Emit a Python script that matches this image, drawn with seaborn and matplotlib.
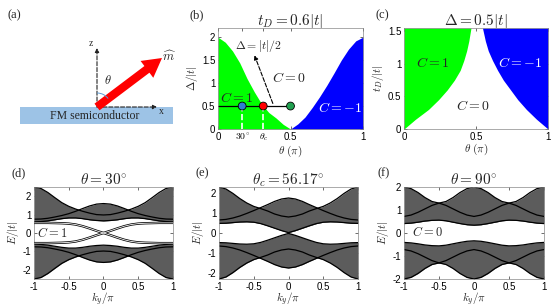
import numpy as np
import matplotlib
matplotlib.use("Agg")
import matplotlib.pyplot as plt
import seaborn as sns
from matplotlib.patches import Rectangle, Arc, FancyArrowPatch

# ---------------- data ----------------
# (b) phase boundary, t_D = 0.6|t|
theta_green_b = [0, 0.05, 0.1, 0.15, 0.2, 0.25, 0.3, 0.35, 0.4, 0.45, 0.5]
delta_green_b = [2.0, 1.89, 1.7, 1.44, 1.1, 0.81, 0.55, 0.36, 0.24, 0.1, 0.0]
theta_blue_b = [0.5, 0.55, 0.6, 0.65, 0.7, 0.75, 0.8, 0.85, 0.9, 0.95, 1.0]
delta_blue_b = [0.0, 0.11, 0.26, 0.47, 0.7, 0.95, 1.22, 1.5, 1.74, 1.92, 2.0]
line_theta = [0, 0.5]
line_delta = [0.5, 0.5]
point_theta = [30 / 180, 56.17 / 180, 0.5]
point_delta = [0.5, 0.5, 0.5]
point_colors = ["#2f7fd0", "#ff0000", "#20a050"]

# (c) phase boundary, Delta = 0.5|t|
td_c = [0, 0.15, 0.3, 0.45, 0.6, 0.75, 0.9, 1.05, 1.2, 1.35, 1.55]
theta_green_c = [0, 0.08, 0.17, 0.24, 0.3, 0.35, 0.39, 0.415, 0.435, 0.45, 0.465]
theta_blue_c = [1.0, 0.92, 0.85, 0.79, 0.74, 0.69, 0.65, 0.615, 0.585, 0.565, 0.545]

# ribbon spectra (upper half, lower half is -E)
ky = [-1.0, -0.9, -0.8, -0.7, -0.6, -0.5, -0.4, -0.3, -0.2, -0.1, 0.0,
      0.1, 0.2, 0.3, 0.4, 0.5, 0.6, 0.7, 0.8, 0.9, 1.0]

outer_d = [2.5, 2.42, 2.2, 1.92, 1.65, 1.45, 1.3, 1.18, 1.08, 1.0, 0.98,
           1.0, 1.08, 1.18, 1.3, 1.45, 1.65, 1.92, 2.2, 2.42, 2.5]
inner_d = [0.75, 0.76, 0.8, 0.87, 0.95, 1.05, 1.18, 1.33, 1.47, 1.57, 1.6,
           1.57, 1.47, 1.33, 1.18, 1.05, 0.95, 0.87, 0.8, 0.76, 0.75]
bottom_d = [0.6, 0.62, 0.66, 0.72, 0.78, 0.82, 0.82, 0.78, 0.72, 0.68, 0.66,
            0.68, 0.72, 0.78, 0.82, 0.82, 0.78, 0.72, 0.66, 0.62, 0.6]
edge_d = [0.55, 0.55, 0.55, 0.54, 0.53, 0.51, 0.46, 0.37, 0.25, 0.12, 0.0,
          -0.12, -0.25, -0.37, -0.46, -0.51, -0.53, -0.54, -0.55, -0.55, -0.55]

outer_e = [2.3, 2.2, 1.98, 1.72, 1.5, 1.33, 1.22, 1.1, 0.95, 0.85, 0.8,
           0.85, 0.95, 1.1, 1.22, 1.33, 1.5, 1.72, 1.98, 2.2, 2.3]
inner_e = [0.65, 0.68, 0.75, 0.85, 0.98, 1.12, 1.27, 1.42, 1.58, 1.7, 1.75,
           1.7, 1.58, 1.42, 1.27, 1.12, 0.98, 0.85, 0.75, 0.68, 0.65]
bottom_e = [0.48, 0.49, 0.52, 0.55, 0.56, 0.54, 0.47, 0.36, 0.24, 0.12, 0.02,
            0.12, 0.24, 0.36, 0.47, 0.54, 0.56, 0.55, 0.52, 0.49, 0.48]

outer_f = [2.0, 1.93, 1.76, 1.54, 1.37, 1.3, 1.2, 1.05, 0.9, 0.78, 0.72,
           0.78, 0.9, 1.05, 1.2, 1.3, 1.37, 1.54, 1.76, 1.93, 2.0]
inner_f = [0.72, 0.78, 0.9, 1.05, 1.2, 1.3, 1.37, 1.54, 1.76, 1.93, 2.0,
           1.93, 1.76, 1.54, 1.37, 1.3, 1.2, 1.05, 0.9, 0.78, 0.72]
bottom_f = [0.41, 0.43, 0.47, 0.52, 0.55, 0.56, 0.53, 0.47, 0.41, 0.36, 0.34,
            0.36, 0.41, 0.47, 0.53, 0.56, 0.55, 0.52, 0.47, 0.43, 0.41]

# ---------------- style ----------------
sns.set_theme(style="ticks")
plt.rcParams['font.family'] = ['Liberation Sans', 'DejaVu Sans']
plt.rcParams['mathtext.fontset'] = 'cm'
plt.rcParams['axes.unicode_minus'] = False
GREEN = "#00ff00"
BLUE = "#0000ff"


def style_axes(ax):
    ax.tick_params(direction='in', length=2, width=0.5, labelsize=7, pad=2,
                   top=True, right=True, colors='#333333', labelcolor='black')
    for s in ax.spines.values():
        s.set_linewidth(0.5)
        s.set_color('#888888')


def draw_spectrum(ax, outer, inner, bottom, ylim):
    k = np.array(ky)
    for sign in (1, -1):
        o = sign * np.array(outer)
        i = sign * np.array(inner)
        b = sign * np.array(bottom)
        ax.fill_between(k, b, o, color="#5c5c5c", lw=0)
        ax.fill_between(k, b, i, color="#5c5c5c", lw=0)
        for vals in (o, i, b):
            sns.lineplot(x=k, y=vals, ax=ax, color='black', lw=0.9)
    ax.set_xlim(-1, 1)
    ax.set_ylim(-ylim, ylim)
    ax.set_xticks([-1, -0.5, 0, 0.5, 1])
    ax.set_xticklabels(['-1', '-0.5', '0', '0.5', '1'])
    ax.set_yticks([-2, -1, 0, 1, 2])
    ax.set_xlabel(r'$k_y/\pi$', fontsize=8, labelpad=-1)
    ax.set_ylabel(r'$E/|t|$', fontsize=8, labelpad=1)
    style_axes(ax)


fig = plt.figure(figsize=(5.59, 3.08), dpi=100)

# ---------------- (a) ----------------
axa = fig.add_axes([0, 158 / 308, 185 / 559, 150 / 308])
axa.set_xlim(0, 185)
axa.set_ylim(0, 150)
axa.axis('off')
axa.add_patch(Rectangle((20, 26), 153, 17, color="#9dc3e6", lw=0))
axa.text(95, 34, "FM semiconductor", family='Liberation Serif', fontsize=8.5,
         ha='center', va='center')
for end in [(97, 102), (157, 43)]:
    axa.add_patch(FancyArrowPatch((97, 43), end, arrowstyle='-|>', mutation_scale=6,
                                  ls='--', lw=0.8, color='#222222',
                                  shrinkA=0, shrinkB=0))
axa.text(91, 106, "z", family='Liberation Serif', fontsize=7, ha='center', va='center')
axa.text(161, 38, "x", family='Liberation Serif', fontsize=7, ha='center', va='center')
axa.add_patch(FancyArrowPatch((97, 43), (162, 92),
                              arrowstyle='simple,head_width=1.9,head_length=1.7,tail_width=0.75',
                              mutation_scale=8, color='#ff0000', lw=0,
                              shrinkA=0, shrinkB=0))
axa.text(169, 93, r'$\widehat{m}$', fontsize=9, ha='center', va='center')
axa.add_patch(Arc((97, 43), 28, 28, theta1=37, theta2=90, color='#5b9bd5', lw=0.7))
axa.text(108, 69, r'$\theta$', fontsize=9, ha='center', va='center')
fig.text(8 / 559, 1 - 15 / 308, "(a)", family='Liberation Serif', fontsize=9, va='center')

# ---------------- (b) ----------------
axb = fig.add_axes([218 / 559, 1 - 129 / 308, 145 / 559, 101 / 308])
axb.fill_between(theta_green_b, 0, delta_green_b, color=GREEN, lw=0)
axb.fill_between(theta_blue_b, 0, delta_blue_b, color=BLUE, lw=0)
sns.lineplot(x=line_theta, y=line_delta, ax=axb, color='black', lw=0.9)
for th in point_theta[:2]:
    axb.plot([th, th], [0, 0.5], color='white', ls='--', lw=1.2, zorder=3)
sns.scatterplot(x=point_theta, y=point_delta, ax=axb, hue=point_theta,
                palette=point_colors, s=32, edgecolor='black', linewidth=0.6,
                legend=False, zorder=4)
axb.annotate('', xy=(0.245, 1.66), xytext=(0.385, 0.5),
             arrowprops=dict(arrowstyle='-|>', ls='--', color='black', lw=0.8,
                             mutation_scale=6))
axb.text(0.12, 1.8, r'$\Delta=|t|/2$', fontsize=8.5, va='center')
axb.text(0.37, 1.12, r'$C=0$', fontsize=10, va='center')
axb.text(0.015, 0.68, r'$C=1$', fontsize=10, va='center')
axb.text(0.69, 0.46, r'$C=-1$', fontsize=10, va='center', color='white')
axb.set_xlim(0, 1)
axb.set_ylim(0, 2.2)
axb.set_xticks([0, 30 / 180, 56.17 / 180, 0.5, 1])
axb.set_xticklabels(['0', r'$30^{\circ}$', r'$\theta_c$', '0.5', '1'])
for lbl in axb.get_xticklabels()[1:3]:
    lbl.set_fontsize(6)
axb.set_yticks([0, 0.5, 1, 1.5, 2])
axb.set_yticklabels(['0', '0.5', '1', '1.5', '2'])
axb.set_xlabel(r'$\theta\ (\pi)$', fontsize=8, labelpad=0)
axb.set_ylabel(r'$\Delta/|t|$', fontsize=8, labelpad=1)
axb.set_title(r'$t_D=0.6|t|$', fontsize=11, pad=2)
style_axes(axb)
fig.text(190 / 559, 1 - 15 / 308, "(b)", family='Liberation Serif', fontsize=9, va='center')

# ---------------- (c) ----------------
axc = fig.add_axes([404 / 559, 1 - 129 / 308, 144 / 559, 101 / 308])
axc.fill_betweenx(td_c, 0, theta_green_c, color=GREEN, lw=0)
axc.fill_betweenx(td_c, theta_blue_c, 1, color=BLUE, lw=0)
axc.text(0.08, 1.02, r'$C=1$', fontsize=10, va='center')
axc.text(0.65, 1.02, r'$C=-1$', fontsize=10, va='center', color='white')
axc.text(0.36, 0.36, r'$C=0$', fontsize=10, va='center')
axc.set_xlim(0, 1)
axc.set_ylim(0, 1.55)
axc.set_xticks([0, 0.5, 1])
axc.set_xticklabels(['0', '0.5', '1'])
axc.set_yticks([0, 0.5, 1, 1.5])
axc.set_yticklabels(['0', '0.5', '1', '1.5'])
axc.set_xlabel(r'$\theta\ (\pi)$', fontsize=8, labelpad=0)
axc.set_ylabel(r'$t_D/|t|$', fontsize=8, labelpad=1)
axc.set_title(r'$\Delta=0.5|t|$', fontsize=11, pad=2)
style_axes(axc)
fig.text(375 / 559, 1 - 15 / 308, "(c)", family='Liberation Serif', fontsize=9, va='center')

# ---------------- (d) (e) (f) ----------------
BOT = 1 - 279 / 308
HGT = 92 / 308
axd = fig.add_axes([34 / 559, BOT, 139 / 559, HGT])
draw_spectrum(axd, outer_d, inner_d, bottom_d, 2.5)
k = np.array(ky)
e1 = np.array(edge_d)
for e in (e1, -e1):
    axd.plot(k, e, color='black', lw=1.7, zorder=5)
    axd.plot(k, e, color='white', lw=0.6, zorder=6)
axd.text(-0.95, 0.0, r'$C=1$', fontsize=9, va='center')
axd.set_title(r'$\theta=30^{\circ}$', fontsize=11, pad=2)
fig.text(12 / 559, 1 - 173 / 308, "(d)", family='Liberation Serif', fontsize=9, va='center')

axe = fig.add_axes([219 / 559, BOT, 139 / 559, HGT])
draw_spectrum(axe, outer_e, inner_e, bottom_e, 2.3)
axe.set_title(r'$\theta_c=56.17^{\circ}$', fontsize=11, pad=2)
fig.text(195 / 559, 1 - 173 / 308, "(e)", family='Liberation Serif', fontsize=9, va='center')

axf = fig.add_axes([404 / 559, BOT, 140 / 559, HGT])
draw_spectrum(axf, outer_f, inner_f, bottom_f, 2.0)
axf.text(-0.88, 0.05, r'$C=0$', fontsize=9, va='center')
axf.set_title(r'$\theta=90^{\circ}$', fontsize=11, pad=2)
fig.text(378 / 559, 1 - 173 / 308, "(f)", family='Liberation Serif', fontsize=9, va='center')

fig.savefig("out.png", dpi=100)
